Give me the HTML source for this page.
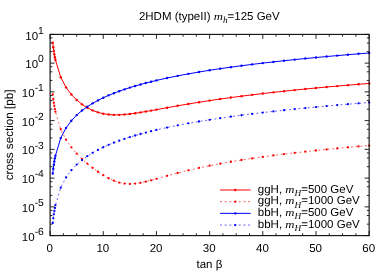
<!DOCTYPE html>
<html><head><meta charset="utf-8"><title>plot</title>
<style>
html,body{margin:0;padding:0;background:#fff;}
body{width:390px;height:273px;overflow:hidden;position:relative;}
text{text-rendering:geometricPrecision;}
.t{font-family:"Liberation Sans",sans-serif;font-size:11.5px;fill:#000;}
.it{font-family:"Liberation Serif",serif;font-style:italic;font-size:10.9px;}
.sub{font-size:9.3px;}
.sup{font-size:10.3px;}
</style></head><body>
<svg width="390" height="273" viewBox="0 0 390 273" style="position:absolute;left:0;top:0;will-change:transform;transform:translateZ(0)">
<rect x="0" y="0" width="390" height="273" fill="#fff"/>
<path d="M52.76,42.62 L53.29,47.18 L53.82,51.03 L54.35,54.36 L54.89,57.30 L55.42,59.94 L60.73,77.26 L66.05,87.40 L71.37,94.56 L76.69,100.02 L82.00,104.33 L87.32,107.75 L92.64,110.39 L97.96,112.36 L103.27,113.72 L108.59,114.53 L113.91,114.87 L119.23,114.84 L124.54,114.51 L129.86,113.96 L135.18,113.25 L140.50,112.42 L145.81,111.53 L151.13,110.59 L156.45,109.63 L167.08,107.70 L177.72,105.80 L188.35,103.98 L198.99,102.25 L209.62,100.60 L220.26,99.04 L230.89,97.56 L241.53,96.16 L252.16,94.83 L262.80,93.56 L273.44,92.35 L284.07,91.19 L294.70,90.08 L305.34,89.02 L315.97,88.00 L326.61,87.02 L337.24,86.08 L347.88,85.17 L358.51,84.29 L369.15,83.45" fill="none" stroke="#ff0000" stroke-width="1.0"/>
<circle cx="52.76" cy="42.62" r="1.2" fill="#ff0000"/>
<circle cx="53.29" cy="47.18" r="1.2" fill="#ff0000"/>
<circle cx="53.82" cy="51.03" r="1.2" fill="#ff0000"/>
<circle cx="54.35" cy="54.36" r="1.2" fill="#ff0000"/>
<circle cx="54.89" cy="57.30" r="1.2" fill="#ff0000"/>
<circle cx="55.42" cy="59.94" r="1.2" fill="#ff0000"/>
<circle cx="60.73" cy="77.26" r="1.2" fill="#ff0000"/>
<circle cx="66.05" cy="87.40" r="1.2" fill="#ff0000"/>
<circle cx="71.37" cy="94.56" r="1.2" fill="#ff0000"/>
<circle cx="76.69" cy="100.02" r="1.2" fill="#ff0000"/>
<circle cx="82.00" cy="104.33" r="1.2" fill="#ff0000"/>
<circle cx="87.32" cy="107.75" r="1.2" fill="#ff0000"/>
<circle cx="92.64" cy="110.39" r="1.2" fill="#ff0000"/>
<circle cx="97.96" cy="112.36" r="1.2" fill="#ff0000"/>
<circle cx="103.27" cy="113.72" r="1.2" fill="#ff0000"/>
<circle cx="108.59" cy="114.53" r="1.2" fill="#ff0000"/>
<circle cx="113.91" cy="114.87" r="1.2" fill="#ff0000"/>
<circle cx="119.23" cy="114.84" r="1.2" fill="#ff0000"/>
<circle cx="124.54" cy="114.51" r="1.2" fill="#ff0000"/>
<circle cx="129.86" cy="113.96" r="1.2" fill="#ff0000"/>
<circle cx="135.18" cy="113.25" r="1.2" fill="#ff0000"/>
<circle cx="140.50" cy="112.42" r="1.2" fill="#ff0000"/>
<circle cx="145.81" cy="111.53" r="1.2" fill="#ff0000"/>
<circle cx="151.13" cy="110.59" r="1.2" fill="#ff0000"/>
<circle cx="156.45" cy="109.63" r="1.2" fill="#ff0000"/>
<circle cx="167.08" cy="107.70" r="1.2" fill="#ff0000"/>
<circle cx="177.72" cy="105.80" r="1.2" fill="#ff0000"/>
<circle cx="188.35" cy="103.98" r="1.2" fill="#ff0000"/>
<circle cx="198.99" cy="102.25" r="1.2" fill="#ff0000"/>
<circle cx="209.62" cy="100.60" r="1.2" fill="#ff0000"/>
<circle cx="220.26" cy="99.04" r="1.2" fill="#ff0000"/>
<circle cx="230.89" cy="97.56" r="1.2" fill="#ff0000"/>
<circle cx="241.53" cy="96.16" r="1.2" fill="#ff0000"/>
<circle cx="252.16" cy="94.83" r="1.2" fill="#ff0000"/>
<circle cx="262.80" cy="93.56" r="1.2" fill="#ff0000"/>
<circle cx="273.44" cy="92.35" r="1.2" fill="#ff0000"/>
<circle cx="284.07" cy="91.19" r="1.2" fill="#ff0000"/>
<circle cx="294.70" cy="90.08" r="1.2" fill="#ff0000"/>
<circle cx="305.34" cy="89.02" r="1.2" fill="#ff0000"/>
<circle cx="315.97" cy="88.00" r="1.2" fill="#ff0000"/>
<circle cx="326.61" cy="87.02" r="1.2" fill="#ff0000"/>
<circle cx="337.24" cy="86.08" r="1.2" fill="#ff0000"/>
<circle cx="347.88" cy="85.17" r="1.2" fill="#ff0000"/>
<circle cx="358.51" cy="84.29" r="1.2" fill="#ff0000"/>
<circle cx="369.15" cy="83.45" r="1.2" fill="#ff0000"/>
<path d="M52.76,94.32 L53.29,98.88 L53.82,102.73 L54.35,106.08 L54.89,109.03 L55.42,111.68 L60.73,129.20 L66.05,139.69 L71.37,147.37 L76.69,153.58 L82.00,158.90 L87.32,163.61 L92.64,167.87 L97.96,171.74 L103.27,175.22 L108.59,178.25 L113.91,180.72 L119.23,182.53 L124.54,183.59 L129.86,183.91 L135.18,183.60 L140.50,182.78 L145.81,181.63 L151.13,180.28 L156.45,178.82 L167.08,175.84 L177.72,172.98 L188.35,170.32 L198.99,167.90 L209.62,165.67 L220.26,163.64 L230.89,161.76 L241.53,160.02 L252.16,158.40 L262.80,156.88 L273.44,155.46 L284.07,154.12 L294.70,152.86 L305.34,151.66 L315.97,150.52 L326.61,149.43 L337.24,148.39 L347.88,147.40 L358.51,146.44 L369.15,145.53" fill="none" stroke="#ff0000" stroke-width="0.75" stroke-dasharray="1.9 2.8" stroke-opacity="0.85"/>
<circle cx="52.76" cy="94.32" r="1.15" fill="#ff0000"/>
<circle cx="53.29" cy="98.88" r="1.15" fill="#ff0000"/>
<circle cx="53.82" cy="102.73" r="1.15" fill="#ff0000"/>
<circle cx="54.35" cy="106.08" r="1.15" fill="#ff0000"/>
<circle cx="54.89" cy="109.03" r="1.15" fill="#ff0000"/>
<circle cx="55.42" cy="111.68" r="1.15" fill="#ff0000"/>
<circle cx="60.73" cy="129.20" r="1.15" fill="#ff0000"/>
<circle cx="66.05" cy="139.69" r="1.15" fill="#ff0000"/>
<circle cx="71.37" cy="147.37" r="1.15" fill="#ff0000"/>
<circle cx="76.69" cy="153.58" r="1.15" fill="#ff0000"/>
<circle cx="82.00" cy="158.90" r="1.15" fill="#ff0000"/>
<circle cx="87.32" cy="163.61" r="1.15" fill="#ff0000"/>
<circle cx="92.64" cy="167.87" r="1.15" fill="#ff0000"/>
<circle cx="97.96" cy="171.74" r="1.15" fill="#ff0000"/>
<circle cx="103.27" cy="175.22" r="1.15" fill="#ff0000"/>
<circle cx="108.59" cy="178.25" r="1.15" fill="#ff0000"/>
<circle cx="113.91" cy="180.72" r="1.15" fill="#ff0000"/>
<circle cx="119.23" cy="182.53" r="1.15" fill="#ff0000"/>
<circle cx="124.54" cy="183.59" r="1.15" fill="#ff0000"/>
<circle cx="129.86" cy="183.91" r="1.15" fill="#ff0000"/>
<circle cx="135.18" cy="183.60" r="1.15" fill="#ff0000"/>
<circle cx="140.50" cy="182.78" r="1.15" fill="#ff0000"/>
<circle cx="145.81" cy="181.63" r="1.15" fill="#ff0000"/>
<circle cx="151.13" cy="180.28" r="1.15" fill="#ff0000"/>
<circle cx="156.45" cy="178.82" r="1.15" fill="#ff0000"/>
<circle cx="167.08" cy="175.84" r="1.15" fill="#ff0000"/>
<circle cx="177.72" cy="172.98" r="1.15" fill="#ff0000"/>
<circle cx="188.35" cy="170.32" r="1.15" fill="#ff0000"/>
<circle cx="198.99" cy="167.90" r="1.15" fill="#ff0000"/>
<circle cx="209.62" cy="165.67" r="1.15" fill="#ff0000"/>
<circle cx="220.26" cy="163.64" r="1.15" fill="#ff0000"/>
<circle cx="230.89" cy="161.76" r="1.15" fill="#ff0000"/>
<circle cx="241.53" cy="160.02" r="1.15" fill="#ff0000"/>
<circle cx="252.16" cy="158.40" r="1.15" fill="#ff0000"/>
<circle cx="262.80" cy="156.88" r="1.15" fill="#ff0000"/>
<circle cx="273.44" cy="155.46" r="1.15" fill="#ff0000"/>
<circle cx="284.07" cy="154.12" r="1.15" fill="#ff0000"/>
<circle cx="294.70" cy="152.86" r="1.15" fill="#ff0000"/>
<circle cx="305.34" cy="151.66" r="1.15" fill="#ff0000"/>
<circle cx="315.97" cy="150.52" r="1.15" fill="#ff0000"/>
<circle cx="326.61" cy="149.43" r="1.15" fill="#ff0000"/>
<circle cx="337.24" cy="148.39" r="1.15" fill="#ff0000"/>
<circle cx="347.88" cy="147.40" r="1.15" fill="#ff0000"/>
<circle cx="358.51" cy="146.44" r="1.15" fill="#ff0000"/>
<circle cx="369.15" cy="145.53" r="1.15" fill="#ff0000"/>
<path d="M52.76,173.50 L53.29,168.78 L53.82,164.81 L54.35,161.38 L54.89,158.37 L55.42,155.68 L60.73,138.12 L66.05,127.92 L71.37,120.69 L76.69,115.10 L82.00,110.53 L87.32,106.67 L92.64,103.33 L97.96,100.38 L103.27,97.74 L108.59,95.36 L113.91,93.18 L119.23,91.18 L124.54,89.33 L129.86,87.60 L135.18,85.99 L140.50,84.47 L145.81,83.05 L151.13,81.69 L156.45,80.41 L167.08,78.03 L177.72,75.86 L188.35,73.86 L198.99,72.01 L209.62,70.28 L220.26,68.67 L230.89,67.16 L241.53,65.73 L252.16,64.38 L262.80,63.10 L273.44,61.88 L284.07,60.71 L294.70,59.60 L305.34,58.54 L315.97,57.52 L326.61,56.54 L337.24,55.60 L347.88,54.69 L358.51,53.82 L369.15,52.97" fill="none" stroke="#0000ff" stroke-width="1.0"/>
<circle cx="52.76" cy="173.50" r="1.2" fill="#0000ff"/>
<circle cx="53.29" cy="168.78" r="1.2" fill="#0000ff"/>
<circle cx="53.82" cy="164.81" r="1.2" fill="#0000ff"/>
<circle cx="54.35" cy="161.38" r="1.2" fill="#0000ff"/>
<circle cx="54.89" cy="158.37" r="1.2" fill="#0000ff"/>
<circle cx="55.42" cy="155.68" r="1.2" fill="#0000ff"/>
<circle cx="60.73" cy="138.12" r="1.2" fill="#0000ff"/>
<circle cx="66.05" cy="127.92" r="1.2" fill="#0000ff"/>
<circle cx="71.37" cy="120.69" r="1.2" fill="#0000ff"/>
<circle cx="76.69" cy="115.10" r="1.2" fill="#0000ff"/>
<circle cx="82.00" cy="110.53" r="1.2" fill="#0000ff"/>
<circle cx="87.32" cy="106.67" r="1.2" fill="#0000ff"/>
<circle cx="92.64" cy="103.33" r="1.2" fill="#0000ff"/>
<circle cx="97.96" cy="100.38" r="1.2" fill="#0000ff"/>
<circle cx="103.27" cy="97.74" r="1.2" fill="#0000ff"/>
<circle cx="108.59" cy="95.36" r="1.2" fill="#0000ff"/>
<circle cx="113.91" cy="93.18" r="1.2" fill="#0000ff"/>
<circle cx="119.23" cy="91.18" r="1.2" fill="#0000ff"/>
<circle cx="124.54" cy="89.33" r="1.2" fill="#0000ff"/>
<circle cx="129.86" cy="87.60" r="1.2" fill="#0000ff"/>
<circle cx="135.18" cy="85.99" r="1.2" fill="#0000ff"/>
<circle cx="140.50" cy="84.47" r="1.2" fill="#0000ff"/>
<circle cx="145.81" cy="83.05" r="1.2" fill="#0000ff"/>
<circle cx="151.13" cy="81.69" r="1.2" fill="#0000ff"/>
<circle cx="156.45" cy="80.41" r="1.2" fill="#0000ff"/>
<circle cx="167.08" cy="78.03" r="1.2" fill="#0000ff"/>
<circle cx="177.72" cy="75.86" r="1.2" fill="#0000ff"/>
<circle cx="188.35" cy="73.86" r="1.2" fill="#0000ff"/>
<circle cx="198.99" cy="72.01" r="1.2" fill="#0000ff"/>
<circle cx="209.62" cy="70.28" r="1.2" fill="#0000ff"/>
<circle cx="220.26" cy="68.67" r="1.2" fill="#0000ff"/>
<circle cx="230.89" cy="67.16" r="1.2" fill="#0000ff"/>
<circle cx="241.53" cy="65.73" r="1.2" fill="#0000ff"/>
<circle cx="252.16" cy="64.38" r="1.2" fill="#0000ff"/>
<circle cx="262.80" cy="63.10" r="1.2" fill="#0000ff"/>
<circle cx="273.44" cy="61.88" r="1.2" fill="#0000ff"/>
<circle cx="284.07" cy="60.71" r="1.2" fill="#0000ff"/>
<circle cx="294.70" cy="59.60" r="1.2" fill="#0000ff"/>
<circle cx="305.34" cy="58.54" r="1.2" fill="#0000ff"/>
<circle cx="315.97" cy="57.52" r="1.2" fill="#0000ff"/>
<circle cx="326.61" cy="56.54" r="1.2" fill="#0000ff"/>
<circle cx="337.24" cy="55.60" r="1.2" fill="#0000ff"/>
<circle cx="347.88" cy="54.69" r="1.2" fill="#0000ff"/>
<circle cx="358.51" cy="53.82" r="1.2" fill="#0000ff"/>
<circle cx="369.15" cy="52.97" r="1.2" fill="#0000ff"/>
<path d="M52.76,223.01 L53.29,218.29 L53.82,214.31 L54.35,210.89 L54.89,207.88 L55.42,205.19 L60.73,187.63 L66.05,177.43 L71.37,170.20 L76.69,164.60 L82.00,160.04 L87.32,156.18 L92.64,152.83 L97.96,149.89 L103.27,147.25 L108.59,144.87 L113.91,142.69 L119.23,140.69 L124.54,138.84 L129.86,137.11 L135.18,135.50 L140.50,133.98 L145.81,132.55 L151.13,131.20 L156.45,129.92 L167.08,127.54 L177.72,125.36 L188.35,123.36 L198.99,121.51 L209.62,119.79 L220.26,118.18 L230.89,116.66 L241.53,115.23 L252.16,113.88 L262.80,112.60 L273.44,111.38 L284.07,110.22 L294.70,109.11 L305.34,108.05 L315.97,107.03 L326.61,106.05 L337.24,105.11 L347.88,104.20 L358.51,103.32 L369.15,102.48" fill="none" stroke="#0000ff" stroke-width="0.75" stroke-dasharray="1.9 2.8" stroke-opacity="0.85"/>
<circle cx="52.76" cy="223.01" r="1.15" fill="#0000ff"/>
<circle cx="53.29" cy="218.29" r="1.15" fill="#0000ff"/>
<circle cx="53.82" cy="214.31" r="1.15" fill="#0000ff"/>
<circle cx="54.35" cy="210.89" r="1.15" fill="#0000ff"/>
<circle cx="54.89" cy="207.88" r="1.15" fill="#0000ff"/>
<circle cx="55.42" cy="205.19" r="1.15" fill="#0000ff"/>
<circle cx="60.73" cy="187.63" r="1.15" fill="#0000ff"/>
<circle cx="66.05" cy="177.43" r="1.15" fill="#0000ff"/>
<circle cx="71.37" cy="170.20" r="1.15" fill="#0000ff"/>
<circle cx="76.69" cy="164.60" r="1.15" fill="#0000ff"/>
<circle cx="82.00" cy="160.04" r="1.15" fill="#0000ff"/>
<circle cx="87.32" cy="156.18" r="1.15" fill="#0000ff"/>
<circle cx="92.64" cy="152.83" r="1.15" fill="#0000ff"/>
<circle cx="97.96" cy="149.89" r="1.15" fill="#0000ff"/>
<circle cx="103.27" cy="147.25" r="1.15" fill="#0000ff"/>
<circle cx="108.59" cy="144.87" r="1.15" fill="#0000ff"/>
<circle cx="113.91" cy="142.69" r="1.15" fill="#0000ff"/>
<circle cx="119.23" cy="140.69" r="1.15" fill="#0000ff"/>
<circle cx="124.54" cy="138.84" r="1.15" fill="#0000ff"/>
<circle cx="129.86" cy="137.11" r="1.15" fill="#0000ff"/>
<circle cx="135.18" cy="135.50" r="1.15" fill="#0000ff"/>
<circle cx="140.50" cy="133.98" r="1.15" fill="#0000ff"/>
<circle cx="145.81" cy="132.55" r="1.15" fill="#0000ff"/>
<circle cx="151.13" cy="131.20" r="1.15" fill="#0000ff"/>
<circle cx="156.45" cy="129.92" r="1.15" fill="#0000ff"/>
<circle cx="167.08" cy="127.54" r="1.15" fill="#0000ff"/>
<circle cx="177.72" cy="125.36" r="1.15" fill="#0000ff"/>
<circle cx="188.35" cy="123.36" r="1.15" fill="#0000ff"/>
<circle cx="198.99" cy="121.51" r="1.15" fill="#0000ff"/>
<circle cx="209.62" cy="119.79" r="1.15" fill="#0000ff"/>
<circle cx="220.26" cy="118.18" r="1.15" fill="#0000ff"/>
<circle cx="230.89" cy="116.66" r="1.15" fill="#0000ff"/>
<circle cx="241.53" cy="115.23" r="1.15" fill="#0000ff"/>
<circle cx="252.16" cy="113.88" r="1.15" fill="#0000ff"/>
<circle cx="262.80" cy="112.60" r="1.15" fill="#0000ff"/>
<circle cx="273.44" cy="111.38" r="1.15" fill="#0000ff"/>
<circle cx="284.07" cy="110.22" r="1.15" fill="#0000ff"/>
<circle cx="294.70" cy="109.11" r="1.15" fill="#0000ff"/>
<circle cx="305.34" cy="108.05" r="1.15" fill="#0000ff"/>
<circle cx="315.97" cy="107.03" r="1.15" fill="#0000ff"/>
<circle cx="326.61" cy="106.05" r="1.15" fill="#0000ff"/>
<circle cx="337.24" cy="105.11" r="1.15" fill="#0000ff"/>
<circle cx="347.88" cy="104.20" r="1.15" fill="#0000ff"/>
<circle cx="358.51" cy="103.32" r="1.15" fill="#0000ff"/>
<circle cx="369.15" cy="102.48" r="1.15" fill="#0000ff"/>
<path d="M50.10,235.6 v-4.5 M50.10,34.4 v4.5 M63.39,235.6 v-2.3 M63.39,34.4 v2.3 M76.69,235.6 v-2.3 M76.69,34.4 v2.3 M89.98,235.6 v-2.3 M89.98,34.4 v2.3 M103.27,235.6 v-4.5 M103.27,34.4 v4.5 M116.57,235.6 v-2.3 M116.57,34.4 v2.3 M129.86,235.6 v-2.3 M129.86,34.4 v2.3 M143.16,235.6 v-2.3 M143.16,34.4 v2.3 M156.45,235.6 v-4.5 M156.45,34.4 v4.5 M169.74,235.6 v-2.3 M169.74,34.4 v2.3 M183.04,235.6 v-2.3 M183.04,34.4 v2.3 M196.33,235.6 v-2.3 M196.33,34.4 v2.3 M209.62,235.6 v-4.5 M209.62,34.4 v4.5 M222.92,235.6 v-2.3 M222.92,34.4 v2.3 M236.21,235.6 v-2.3 M236.21,34.4 v2.3 M249.51,235.6 v-2.3 M249.51,34.4 v2.3 M262.80,235.6 v-4.5 M262.80,34.4 v4.5 M276.09,235.6 v-2.3 M276.09,34.4 v2.3 M289.39,235.6 v-2.3 M289.39,34.4 v2.3 M302.68,235.6 v-2.3 M302.68,34.4 v2.3 M315.97,235.6 v-4.5 M315.97,34.4 v4.5 M329.27,235.6 v-2.3 M329.27,34.4 v2.3 M342.56,235.6 v-2.3 M342.56,34.4 v2.3 M355.86,235.6 v-2.3 M355.86,34.4 v2.3 M369.15,235.6 v-4.5 M369.15,34.4 v4.5 M50.1,34.40 h4.5 M369.15,34.40 h-4.5 M50.1,37.99 h2.3 M369.15,37.99 h-2.3 M50.1,43.05 h2.3 M369.15,43.05 h-2.3 M50.1,51.70 h2.3 M369.15,51.70 h-2.3 M50.1,63.14 h4.5 M369.15,63.14 h-4.5 M50.1,66.73 h2.3 M369.15,66.73 h-2.3 M50.1,71.80 h2.3 M369.15,71.80 h-2.3 M50.1,80.45 h2.3 M369.15,80.45 h-2.3 M50.1,91.89 h4.5 M369.15,91.89 h-4.5 M50.1,95.48 h2.3 M369.15,95.48 h-2.3 M50.1,100.54 h2.3 M369.15,100.54 h-2.3 M50.1,109.19 h2.3 M369.15,109.19 h-2.3 M50.1,120.63 h4.5 M369.15,120.63 h-4.5 M50.1,124.22 h2.3 M369.15,124.22 h-2.3 M50.1,129.28 h2.3 M369.15,129.28 h-2.3 M50.1,137.93 h2.3 M369.15,137.93 h-2.3 M50.1,149.37 h4.5 M369.15,149.37 h-4.5 M50.1,152.96 h2.3 M369.15,152.96 h-2.3 M50.1,158.02 h2.3 M369.15,158.02 h-2.3 M50.1,166.68 h2.3 M369.15,166.68 h-2.3 M50.1,178.11 h4.5 M369.15,178.11 h-4.5 M50.1,181.71 h2.3 M369.15,181.71 h-2.3 M50.1,186.77 h2.3 M369.15,186.77 h-2.3 M50.1,195.42 h2.3 M369.15,195.42 h-2.3 M50.1,206.86 h4.5 M369.15,206.86 h-4.5 M50.1,210.45 h2.3 M369.15,210.45 h-2.3 M50.1,215.51 h2.3 M369.15,215.51 h-2.3 M50.1,224.16 h2.3 M369.15,224.16 h-2.3 M50.1,235.60 h4.5 M369.15,235.60 h-4.5" fill="none" stroke="#111" stroke-width="0.9"/>
<rect x="50.1" y="34.4" width="319.04999999999995" height="201.2" fill="none" stroke="#111" stroke-width="1.15"/>
<path d="M220.0,189.97 H250.6" stroke="#ff0000" stroke-width="1.0"/>
<circle cx="235.30" cy="189.97" r="1.2" fill="#ff0000"/>
<text class="t" x="257.8" y="192.57">ggH, <tspan class="it" textLength="9.2" lengthAdjust="spacingAndGlyphs">m</tspan><tspan class="it sub" dy="3.5">H</tspan><tspan dy="-3.5">=500 GeV</tspan></text>
<path d="M220.0,201.67 H250.6" stroke="#ff0000" stroke-width="0.75" stroke-dasharray="1.9 2.8" stroke-opacity="0.85"/>
<circle cx="235.30" cy="201.67" r="1.15" fill="#ff0000"/>
<text class="t" x="257.8" y="204.27">ggH, <tspan class="it" textLength="9.2" lengthAdjust="spacingAndGlyphs">m</tspan><tspan class="it sub" dy="3.5">H</tspan><tspan dy="-3.5">=1000 GeV</tspan></text>
<path d="M220.0,213.37 H250.6" stroke="#0000ff" stroke-width="1.0"/>
<circle cx="235.30" cy="213.37" r="1.2" fill="#0000ff"/>
<text class="t" x="257.8" y="215.97">bbH, <tspan class="it" textLength="9.2" lengthAdjust="spacingAndGlyphs">m</tspan><tspan class="it sub" dy="3.5">H</tspan><tspan dy="-3.5">=500 GeV</tspan></text>
<path d="M220.0,225.07 H250.6" stroke="#0000ff" stroke-width="0.75" stroke-dasharray="1.9 2.8" stroke-opacity="0.85"/>
<circle cx="235.30" cy="225.07" r="1.15" fill="#0000ff"/>
<text class="t" x="257.8" y="227.67">bbH, <tspan class="it" textLength="9.2" lengthAdjust="spacingAndGlyphs">m</tspan><tspan class="it sub" dy="3.5">H</tspan><tspan dy="-3.5">=1000 GeV</tspan></text>
<text class="t" x="43.8" y="39.50" text-anchor="end">10<tspan class="sup" dy="-5.8">1</tspan></text>
<text class="t" x="43.8" y="68.24" text-anchor="end">10<tspan class="sup" dy="-5.8">0</tspan></text>
<text class="t" x="43.8" y="96.99" text-anchor="end">10<tspan class="sup" dy="-5.8">-1</tspan></text>
<text class="t" x="43.8" y="125.73" text-anchor="end">10<tspan class="sup" dy="-5.8">-2</tspan></text>
<text class="t" x="43.8" y="154.47" text-anchor="end">10<tspan class="sup" dy="-5.8">-3</tspan></text>
<text class="t" x="43.8" y="183.21" text-anchor="end">10<tspan class="sup" dy="-5.8">-4</tspan></text>
<text class="t" x="43.8" y="211.96" text-anchor="end">10<tspan class="sup" dy="-5.8">-5</tspan></text>
<text class="t" x="43.8" y="240.70" text-anchor="end">10<tspan class="sup" dy="-5.8">-6</tspan></text>
<text class="t" x="49.70" y="251.6" text-anchor="middle">0</text>
<text class="t" x="102.87" y="251.6" text-anchor="middle">10</text>
<text class="t" x="156.05" y="251.6" text-anchor="middle">20</text>
<text class="t" x="209.22" y="251.6" text-anchor="middle">30</text>
<text class="t" x="262.40" y="251.6" text-anchor="middle">40</text>
<text class="t" x="315.57" y="251.6" text-anchor="middle">50</text>
<text class="t" x="368.75" y="251.6" text-anchor="middle">60</text>
<text class="t" x="209.4" y="268.2" text-anchor="middle">tan β</text>
<text class="t" style="font-size:11.65px" transform="translate(13.3,134.9) rotate(-90)" text-anchor="middle">cross section [pb]</text>
<text class="t" x="209.3" y="19.5" text-anchor="middle">2HDM (typeII) <tspan class="it" textLength="9.2" lengthAdjust="spacingAndGlyphs">m</tspan><tspan class="it sub" dy="3.5">h</tspan><tspan dy="-3.5">=125 GeV</tspan></text>
</svg>
</body></html>
